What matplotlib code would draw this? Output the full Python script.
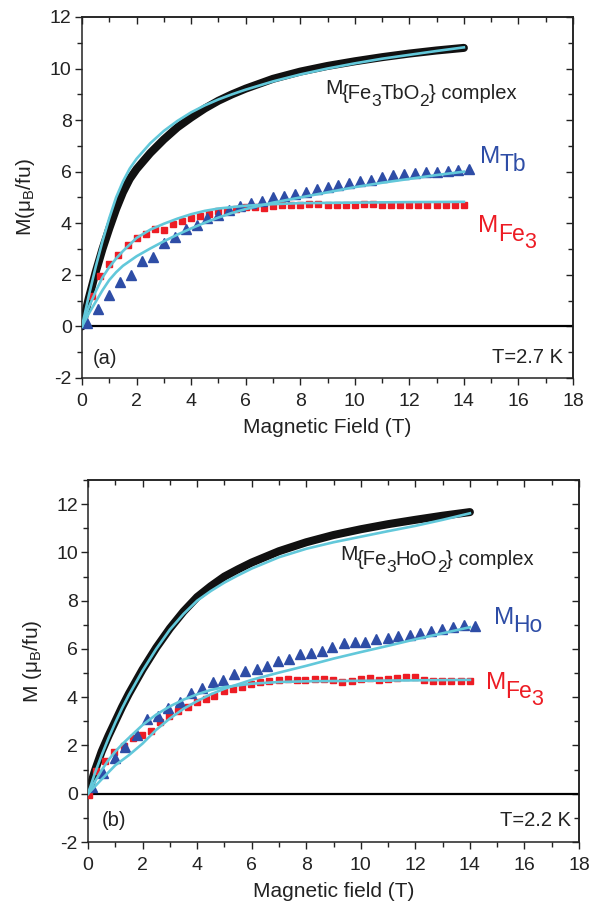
import matplotlib
matplotlib.use("Agg")
import matplotlib.pyplot as plt
from matplotlib.ticker import MultipleLocator

plt.rcParams['font.family'] = ['Liberation Sans', 'DejaVu Sans']
plt.rcParams['mathtext.fontset'] = 'custom'
plt.rcParams['mathtext.rm'] = 'Liberation Sans'
plt.rcParams['mathtext.it'] = 'Liberation Sans:italic'
plt.rcParams['axes.unicode_minus'] = False

RED = '#ED1C24'
BLUE = '#2E4DA6'
CYAN = '#62C8DA'

# ---------------- panel (a) data ----------------
H_cplx_a = [0, 0.25, 0.5, 0.75, 1.0, 1.25, 1.5, 1.75, 2.0, 2.5, 3.0, 3.5, 4.0, 4.5, 5.0,
            5.5, 6.0, 7.0, 8.0, 9.0, 10.0, 11.0, 12.0, 13.0, 14.0]
M_cplx_a = [0, 1.1, 2.1, 3.0, 3.8, 4.55, 5.2, 5.72, 6.1, 6.72, 7.25, 7.72, 8.1, 8.45, 8.75,
            9.0, 9.22, 9.6, 9.88, 10.1, 10.28, 10.44, 10.58, 10.7, 10.8]
H_cfit_a = [0, 0.25, 0.5, 0.75, 1.0, 1.25, 1.5, 1.75, 2.0, 2.5, 3.0, 3.5, 4.0, 4.5, 5.0,
            5.5, 6.0, 7.0, 8.0, 9.0, 10.0, 11.0, 12.0, 13.0, 14.0]
M_cfit_a = [0, 1.2, 2.3, 3.3, 4.2, 5.0, 5.62, 6.12, 6.5, 7.1, 7.58, 7.97, 8.3, 8.57, 8.8,
            9.0, 9.18, 9.5, 9.77, 10.0, 10.2, 10.38, 10.53, 10.68, 10.82]

H_fe_a = [0.35, 0.66, 1.0, 1.33, 1.67, 2.0, 2.33, 2.66, 3.0, 3.33, 3.66, 4.0, 4.33, 4.66,
          5.0, 5.33, 5.66, 6.0, 6.33, 6.66, 7.0, 7.33, 7.66, 8.0, 8.33, 8.66, 9.0, 9.33,
          9.66, 10.0, 10.33, 10.66, 11.0, 11.33, 11.66, 12.0, 12.33, 12.66, 13.0, 13.33,
          13.66, 14.0]
M_fe_a = [1.16, 1.94, 2.42, 2.77, 3.15, 3.41, 3.58, 3.79, 3.75, 3.98, 4.1, 4.2, 4.3, 4.37,
          4.47, 4.47, 4.55, 4.62, 4.62, 4.6, 4.68, 4.7, 4.72, 4.72, 4.74, 4.74, 4.72, 4.72,
          4.7, 4.72, 4.74, 4.74, 4.72, 4.72, 4.7, 4.72, 4.72, 4.72, 4.7, 4.7, 4.72, 4.72]
H_fefit_a = [0, 0.25, 0.5, 0.75, 1.0, 1.25, 1.5, 2.0, 2.5, 3.0, 3.5, 4.0, 4.5, 5.0, 6.0,
             7.0, 8.0, 10.0, 12.0, 14.0]
M_fefit_a = [0, 0.75, 1.35, 1.9, 2.3, 2.63, 2.92, 3.43, 3.75, 3.98, 4.18, 4.35, 4.48, 4.57,
             4.68, 4.74, 4.78, 4.8, 4.82, 4.83]

H_tb_a = [0.2, 0.6, 1.0, 1.4, 1.8, 2.2, 2.6, 3.0, 3.4, 3.8, 4.2, 4.6, 5.0, 5.4, 5.8, 6.2,
          6.6, 7.0, 7.4, 7.8, 8.2, 8.6, 9.0, 9.4, 9.8, 10.2, 10.6, 11.0, 11.4, 11.8, 12.2,
          12.6, 13.0, 13.4, 13.8, 14.2]
M_tb_a = [0.13, 0.67, 1.23, 1.72, 1.98, 2.55, 2.71, 3.23, 3.45, 3.77, 3.94, 4.2, 4.33, 4.53,
          4.65, 4.78, 4.88, 5.0, 5.05, 5.13, 5.23, 5.33, 5.4, 5.5, 5.57, 5.64, 5.68, 5.78,
          5.86, 5.9, 5.94, 5.97, 6.0, 6.03, 6.07, 6.1]
H_tbfit_a = [0, 0.25, 0.5, 0.75, 1.0, 1.25, 1.5, 2.0, 2.5, 3.0, 3.5, 4.0, 4.5, 5.0, 5.5,
             6.0, 7.0, 8.0, 9.0, 10.0, 11.0, 12.0, 13.0, 14.0]
M_tbfit_a = [0, 0.5, 0.95, 1.4, 1.8, 2.1, 2.35, 2.72, 3.02, 3.3, 3.56, 3.8, 4.02, 4.22, 4.4,
             4.55, 4.8, 5.0, 5.2, 5.4, 5.57, 5.72, 5.87, 6.0]

# ---------------- panel (b) data ----------------
H_cplx_b = [0, 0.25, 0.5, 0.75, 1.0, 1.25, 1.5, 2.0, 2.5, 3.0, 3.5, 4.0, 4.5, 5.0, 5.5,
            6.0, 7.0, 8.0, 9.0, 10.0, 11.0, 12.0, 13.0, 14.0]
M_cplx_b = [0, 0.95, 1.75, 2.4, 3.0, 3.6, 4.15, 5.15, 6.05, 6.85, 7.55, 8.15, 8.6, 9.0, 9.3,
            9.58, 10.05, 10.42, 10.72, 10.96, 11.17, 11.35, 11.52, 11.67]
H_cfit_b = [0, 0.25, 0.5, 0.75, 1.0, 1.25, 1.5, 2.0, 2.5, 3.0, 3.5, 4.0, 4.5, 5.0, 5.5,
            6.0, 7.0, 8.0, 9.0, 10.0, 11.0, 12.0, 13.0, 14.0]
M_cfit_b = [0, 0.85, 1.6, 2.3, 2.95, 3.55, 4.1, 5.1, 6.0, 6.8, 7.45, 8.0, 8.4, 8.75, 9.05,
            9.33, 9.8, 10.15, 10.42, 10.65, 10.88, 11.1, 11.35, 11.62]

H_fe_b = [0.05, 0.3, 0.62, 0.96, 1.32, 1.64, 1.97, 2.3, 2.64, 2.98, 3.31, 3.65, 3.98, 4.31,
          4.63, 4.98, 5.32, 5.65, 5.98, 6.32, 6.65, 6.99, 7.32, 7.65, 7.95, 8.32, 8.64,
          8.99, 9.32, 9.66, 9.99, 10.33, 10.66, 10.98, 11.33, 11.65, 11.99, 12.32, 12.65,
          12.99, 13.32, 13.66, 13.99]
M_fe_b = [-0.04, 0.95, 1.37, 1.71, 1.99, 2.31, 2.43, 2.61, 2.96, 3.21, 3.44, 3.58, 3.79, 3.93,
          4.04, 4.27, 4.34, 4.44, 4.56, 4.63, 4.66, 4.7, 4.74, 4.73, 4.73, 4.76, 4.76, 4.72,
          4.65, 4.69, 4.76, 4.78, 4.72, 4.76, 4.78, 4.83, 4.83, 4.73, 4.66, 4.66, 4.66,
          4.69, 4.69]
H_fefit_b = [0, 0.25, 0.5, 0.75, 1.0, 1.25, 1.5, 2.0, 2.5, 3.0, 3.5, 4.0, 4.5, 5.0, 6.0,
             7.0, 8.0, 10.0, 12.0, 14.0]
M_fefit_b = [0, 0.5, 0.98, 1.4, 1.75, 2.05, 2.32, 2.85, 3.28, 3.62, 3.9, 4.12, 4.3, 4.42,
             4.56, 4.63, 4.66, 4.68, 4.7, 4.72]

H_ho_b = [0.13, 0.54, 0.99, 1.37, 1.78, 2.17, 2.58, 2.94, 3.37, 3.76, 4.16, 4.57, 4.96, 5.35,
          5.76, 6.18, 6.57, 6.97, 7.37, 7.77, 8.17, 8.56, 8.96, 9.37, 9.77, 10.17, 10.57,
          10.98, 11.38, 11.79, 12.18, 12.58, 12.98, 13.37, 13.77, 14.18]
M_ho_b = [0.26, 0.84, 1.48, 1.95, 2.43, 3.1, 3.24, 3.56, 3.79, 4.16, 4.37, 4.62, 4.72, 4.96,
          5.1, 5.17, 5.3, 5.5, 5.58, 5.78, 5.83, 5.93, 6.07, 6.24, 6.28, 6.3, 6.41, 6.46,
          6.52, 6.58, 6.65, 6.76, 6.83, 6.9, 7.0, 6.97]
H_hofit_b = [0, 0.5, 1.0, 1.5, 2.0, 2.5, 3.0, 3.5, 4.0, 4.5, 5.0, 6.0, 7.0, 8.0, 9.0, 10.0,
             11.0, 12.0, 13.0, 14.0]
M_hofit_b = [0, 0.6, 1.18, 1.6, 2.08, 2.65, 3.12, 3.52, 3.84, 4.12, 4.35, 4.72, 5.02, 5.3,
             5.6, 5.87, 6.13, 6.4, 6.65, 6.9]

fig = plt.figure(figsize=(5.96, 9.06), dpi=100)
ax1 = fig.add_axes([0.1376, 0.5828, 0.8238, 0.3985])
ax2 = fig.add_axes([0.1477, 0.0706, 0.8238, 0.3996])

TICKC = '#222222'


def style(ax, ymin, ymax, xlabel, ylabel):
    ax.set_xlim(0, 18)
    ax.set_ylim(ymin, ymax)
    ax.xaxis.set_major_locator(MultipleLocator(2))
    ax.xaxis.set_minor_locator(MultipleLocator(1))
    ax.yaxis.set_major_locator(MultipleLocator(2))
    ax.yaxis.set_minor_locator(MultipleLocator(1))
    ax.tick_params(which='both', direction='out', top=False, right=False,
                   labelsize=14, width=1.0, colors=TICKC)
    ax.tick_params(which='major', length=5)
    ax.tick_params(which='minor', length=3.5)
    ax.tick_params(axis='x', which='major', pad=5.8)
    ax.tick_params(axis='y', which='major', pad=2.4)
    for s in ax.spines.values():
        s.set_linewidth(1.1)
        s.set_color(TICKC)
    ax.axhline(0, color='black', lw=1.6, zorder=1)
    ax.set_xlabel(xlabel, fontsize=15, labelpad=5.5, color=TICKC)
    ax.set_ylabel(ylabel, fontsize=15, labelpad=9, color=TICKC)
    sx = ax.secondary_xaxis('top')
    sx.xaxis.set_major_locator(MultipleLocator(2))
    sx.xaxis.set_minor_locator(MultipleLocator(1))
    sx.tick_params(which='both', direction='in', labeltop=False, width=1.0, colors=TICKC)
    sx.tick_params(which='major', length=5)
    sx.tick_params(which='minor', length=3.5)
    sy = ax.secondary_yaxis('right')
    sy.yaxis.set_major_locator(MultipleLocator(2))
    sy.yaxis.set_minor_locator(MultipleLocator(1))
    sy.tick_params(which='both', direction='in', labelright=False, width=1.0, colors=TICKC)
    sy.tick_params(which='major', length=5)
    sy.tick_params(which='minor', length=3.5)
    for sec in (sx, sy):
        for s in sec.spines.values():
            s.set_linewidth(1.1)
            s.set_color(TICKC)


def draw(ax, Hc, Mc, Hcf, Mcf, Hf, Mf, Hff, Mff, Hr, Mr, Hrf, Mrf):
    ax.plot(Hc, Mc, color='#111111', lw=5.8, solid_capstyle='round',
            solid_joinstyle='round', zorder=2)
    ax.plot(Hf, Mf, ls='none', marker='s', ms=5, color=RED, mec=RED, zorder=3)
    ax.plot(Hr, Mr, ls='none', marker='^', ms=6.5, color=BLUE, mec=BLUE, zorder=3)
    ax.plot(Hcf, Mcf, color=CYAN, lw=1.9, zorder=4)
    ax.plot(Hff, Mff, color=CYAN, lw=1.9, zorder=4)
    ax.plot(Hrf, Mrf, color=CYAN, lw=1.9, zorder=4)


style(ax1, -2, 12, 'Magnetic Field (T)', r'M(μ$_\mathrm{B}$/fu)')
style(ax2, -2, 13, 'Magnetic field (T)', r'M (μ$_\mathrm{B}$/fu)')
draw(ax1, H_cplx_a, M_cplx_a, H_cfit_a, M_cfit_a, H_fe_a, M_fe_a, H_fefit_a, M_fefit_a,
     H_tb_a, M_tb_a, H_tbfit_a, M_tbfit_a)
draw(ax2, H_cplx_b, M_cplx_b, H_cfit_b, M_cfit_b, H_fe_b, M_fe_b, H_fefit_b, M_fefit_b,
     H_ho_b, M_ho_b, H_hofit_b, M_hofit_b)

renderer = fig.canvas.get_renderer()


def compose(ax, x, y, pieces, color):
    dx = 0.0
    for s, size, dy in pieces:
        t = ax.annotate(s, xy=(x, y), xycoords='data', xytext=(dx, -dy),
                        textcoords='offset pixels', fontsize=size, color=color,
                        ha='left', va='baseline')
        bb = t.get_window_extent(renderer)
        dx += bb.width - 0.5


compose(ax1, 8.9, 9.02, [('M', 15, 0), ('{Fe', 14.5, 5), ('3', 12.5, 12), ('TbO', 14.5, 5),
                         ('2', 12.5, 12), ('} complex', 14.5, 5)], TICKC)
compose(ax1, 14.58, 6.34, [('M', 17.5, 0), ('Tb', 16.5, 8)], BLUE)
compose(ax1, 14.52, 3.68, [('M', 17.5, 0), ('Fe', 16.5, 9), ('3', 15.5, 16)], RED)
ax1.text(0.4, -1.45, '(a)', fontsize=14.5, ha='left', va='baseline', color=TICKC)
ax1.text(17.62, -1.41, 'T=2.7 K', fontsize=14.5, ha='right', va='baseline', color=TICKC)

compose(ax2, 9.23, 9.67, [('M', 15, 0), ('{Fe', 14.5, 5), ('3', 12.5, 12), ('HoO', 14.5, 5),
                          ('2', 12.5, 12), ('} complex', 14.5, 5)], TICKC)
compose(ax2, 14.87, 7.04, [('M', 17.5, 0), ('Ho', 16.5, 8)], BLUE)
compose(ax2, 14.58, 4.36, [('M', 17.5, 0), ('Fe', 16.5, 9), ('3', 15.5, 16)], RED)
ax2.text(0.5, -1.33, '(b)', fontsize=14.5, ha='left', va='baseline', color=TICKC)
ax2.text(17.72, -1.33, 'T=2.2 K', fontsize=14.5, ha='right', va='baseline', color=TICKC)

fig.savefig('out.png', dpi=100)
